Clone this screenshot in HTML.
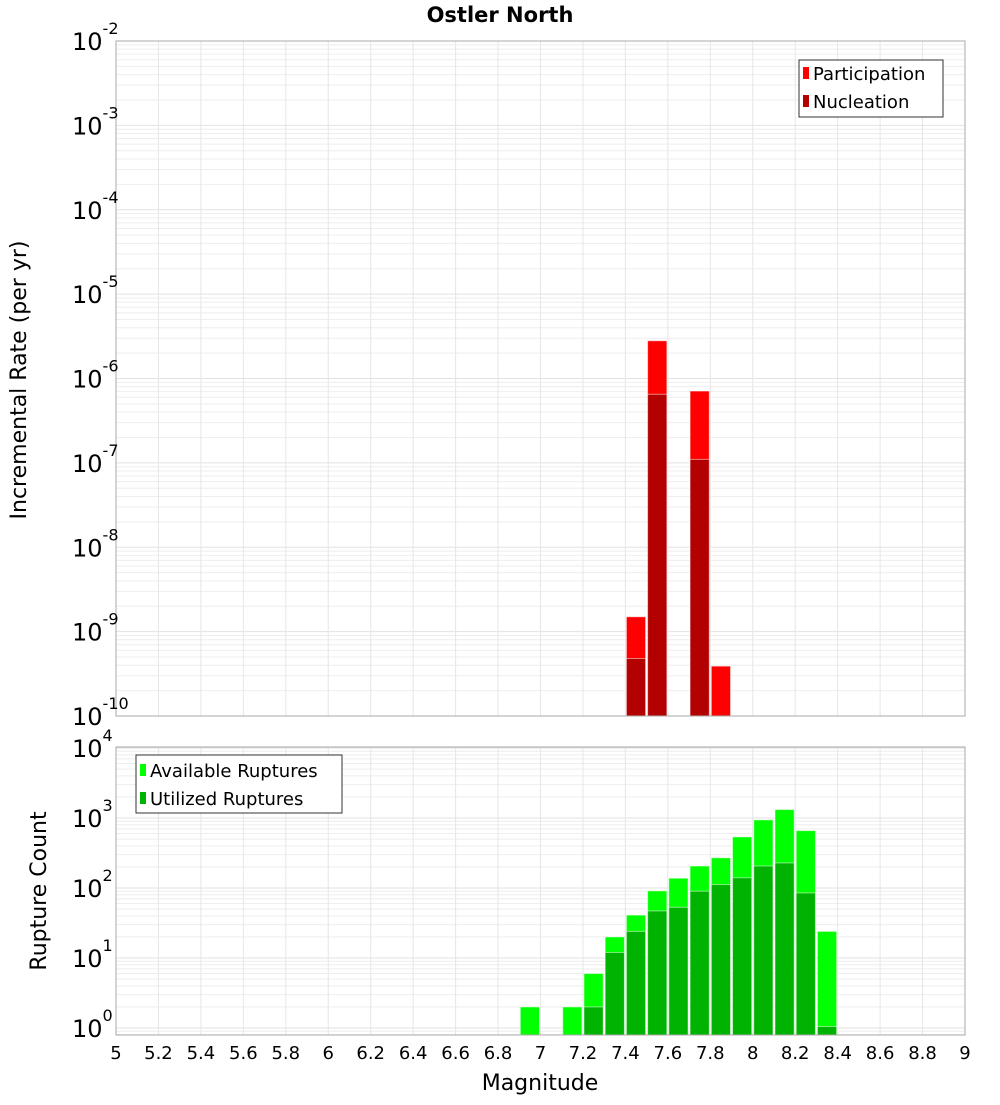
<!DOCTYPE html>
<html><head><meta charset="utf-8"><style>
body{margin:0;background:#fff}
svg{font-family:"DejaVu Sans","Liberation Sans",sans-serif}
</style></head><body>
<svg id="c" width="1000" height="1100" xmlns="http://www.w3.org/2000/svg">
<text x="500" y="22" text-anchor="middle" font-size="21" font-weight="bold">Ostler North</text>
<g id="g"></g>
</svg>
<script>
const binCenters=[6.95,7.15,7.25,7.35,7.45,7.55,7.65,7.75,7.85,7.95,8.05,8.15,8.25,8.35];
const available=[2,2,6,20,41,91,138,206,270,537,940,1320,660,24];
const utilized=[0,0,2,12,24,47,53,90,112,140,206,228,85,1.05];
const rateMags=[7.45,7.55,7.75,7.85];
const participation=[1.5e-9,2.8e-6,7.1e-7,3.9e-10];
const nucleation=[4.8e-10,6.5e-7,1.1e-7,0];
const xTicks=[5,5.2,5.4,5.6,5.8,6,6.2,6.4,6.6,6.8,7,7.2,7.4,7.6,7.8,8,8.2,8.4,8.6,8.8,9];
const topExps=[-2,-3,-4,-5,-6,-7,-8,-9,-10];
const botExps=[4,3,2,1,0];

const NS="http://www.w3.org/2000/svg",G=document.getElementById('g');
function el(t,a,p){const e=document.createElementNS(NS,t);for(const k in a)e.setAttribute(k,a[k]);(p||G).appendChild(e);return e;}
const X0=116,X1=965;
const xs=m=>X0+(m-5)/4*(X1-X0);
const T0=41,T1=716;
const yTop=v=>T1-(Math.log10(v)+10)/8*(T1-T0);
const B0=747,B1=1035;
const yBot=v=>1028-Math.log10(v)*70;

function grid(y0,y1,eLo,eHi,yf){
  for(let e=eLo;e<eHi;e++)for(let k=1;k<10;k++){const v=k*Math.pow(10,e);const y=yf(v);if(y<y0-0.5||y>y1+0.5)continue;
    const l=el('line',{x1:X0,x2:X1,y1:y,y2:y,stroke:k==1?'#e2e2e2':'#eeeeee','stroke-width':1});
    }
  xTicks.forEach(t=>{const l=el('line',{x1:xs(t),x2:xs(t),y1:y0,y2:y1,stroke:'#e6e6e6'});
    });
}
grid(T0,T1,-10,-1,yTop);
grid(B0,B1,-1,5,yBot);

function bar(lo,y,base,fill,name){
  const x=xs(lo)+1,w=xs(lo+0.1)-xs(lo)-2;
  const r=el('rect',{x:x,y:y,width:w,height:base-y,fill:fill,stroke:'#ffffff','stroke-opacity':0.5,'stroke-width':1});
  
}
rateMags.forEach((m,i)=>{
  if(participation[i]>0)bar(m-0.05,yTop(participation[i]),T1,'#ff0000','participation-bar');
  if(nucleation[i]>0)bar(m-0.05,yTop(nucleation[i]),T1,'#b30000','nucleation-bar');
});
binCenters.forEach((m,i)=>{
  if(available[i]>0)bar(m-0.05,yBot(available[i]),B1,'#00ff00','available-bar');
  if(utilized[i]>0)bar(m-0.05,yBot(utilized[i]),B1,'#00b300','utilized-bar');
});

[[T0,T1],[B0,B1]].forEach(([a,b])=>{const r=el('rect',{x:X0,y:a,width:X1-X0,height:b-a,fill:'none',stroke:'#aaaaaa'});
  });

function ylab(y,e,name){
  const t=el('text',{x:72,y:y+9,'font-size':24});
  
  const a=el('tspan',{},t);a.textContent='10';
  const b=el('tspan',{dy:-16,'font-size':16},t);b.textContent=String(e);
}
topExps.forEach(e=>ylab(yTop(Math.pow(10,e)),e,'y-tick-label'));
botExps.forEach(e=>ylab(yBot(Math.pow(10,e)),e,'y-tick-label'));

xTicks.forEach(t=>{const l=el('text',{x:xs(t),y:1059,'text-anchor':'middle','font-size':18});l.textContent=String(t);
  });
</script>
<svg style="position:absolute;left:0;top:0" width="1000" height="1100" xmlns="http://www.w3.org/2000/svg">
<text x="540" y="1090" text-anchor="middle" font-size="22">Magnitude</text>
<text transform="translate(26,380) rotate(-90)" text-anchor="middle" font-size="22">Incremental Rate (per yr)</text>
<text transform="translate(46,891) rotate(-90)" text-anchor="middle" font-size="22">Rupture Count</text>
<g>
<rect x="799" y="60" width="144" height="57" fill="#fff" stroke="#333"/>
<rect x="803" y="67" width="6" height="12" fill="#ff0000"/>
<text x="813" y="80" font-size="18">Participation</text>
<rect x="803" y="95" width="6" height="12" fill="#b30000"/>
<text x="813" y="108" font-size="18">Nucleation</text>
</g>
<g>
<rect x="136" y="755" width="206" height="58" fill="#fff" stroke="#333"/>
<rect x="140" y="764" width="6" height="12" fill="#00ff00"/>
<text x="150" y="777" font-size="18">Available Ruptures</text>
<rect x="140" y="792" width="6" height="12" fill="#00b300"/>
<text x="150" y="805" font-size="18">Utilized Ruptures</text>
</g>
</svg>
</body></html>
